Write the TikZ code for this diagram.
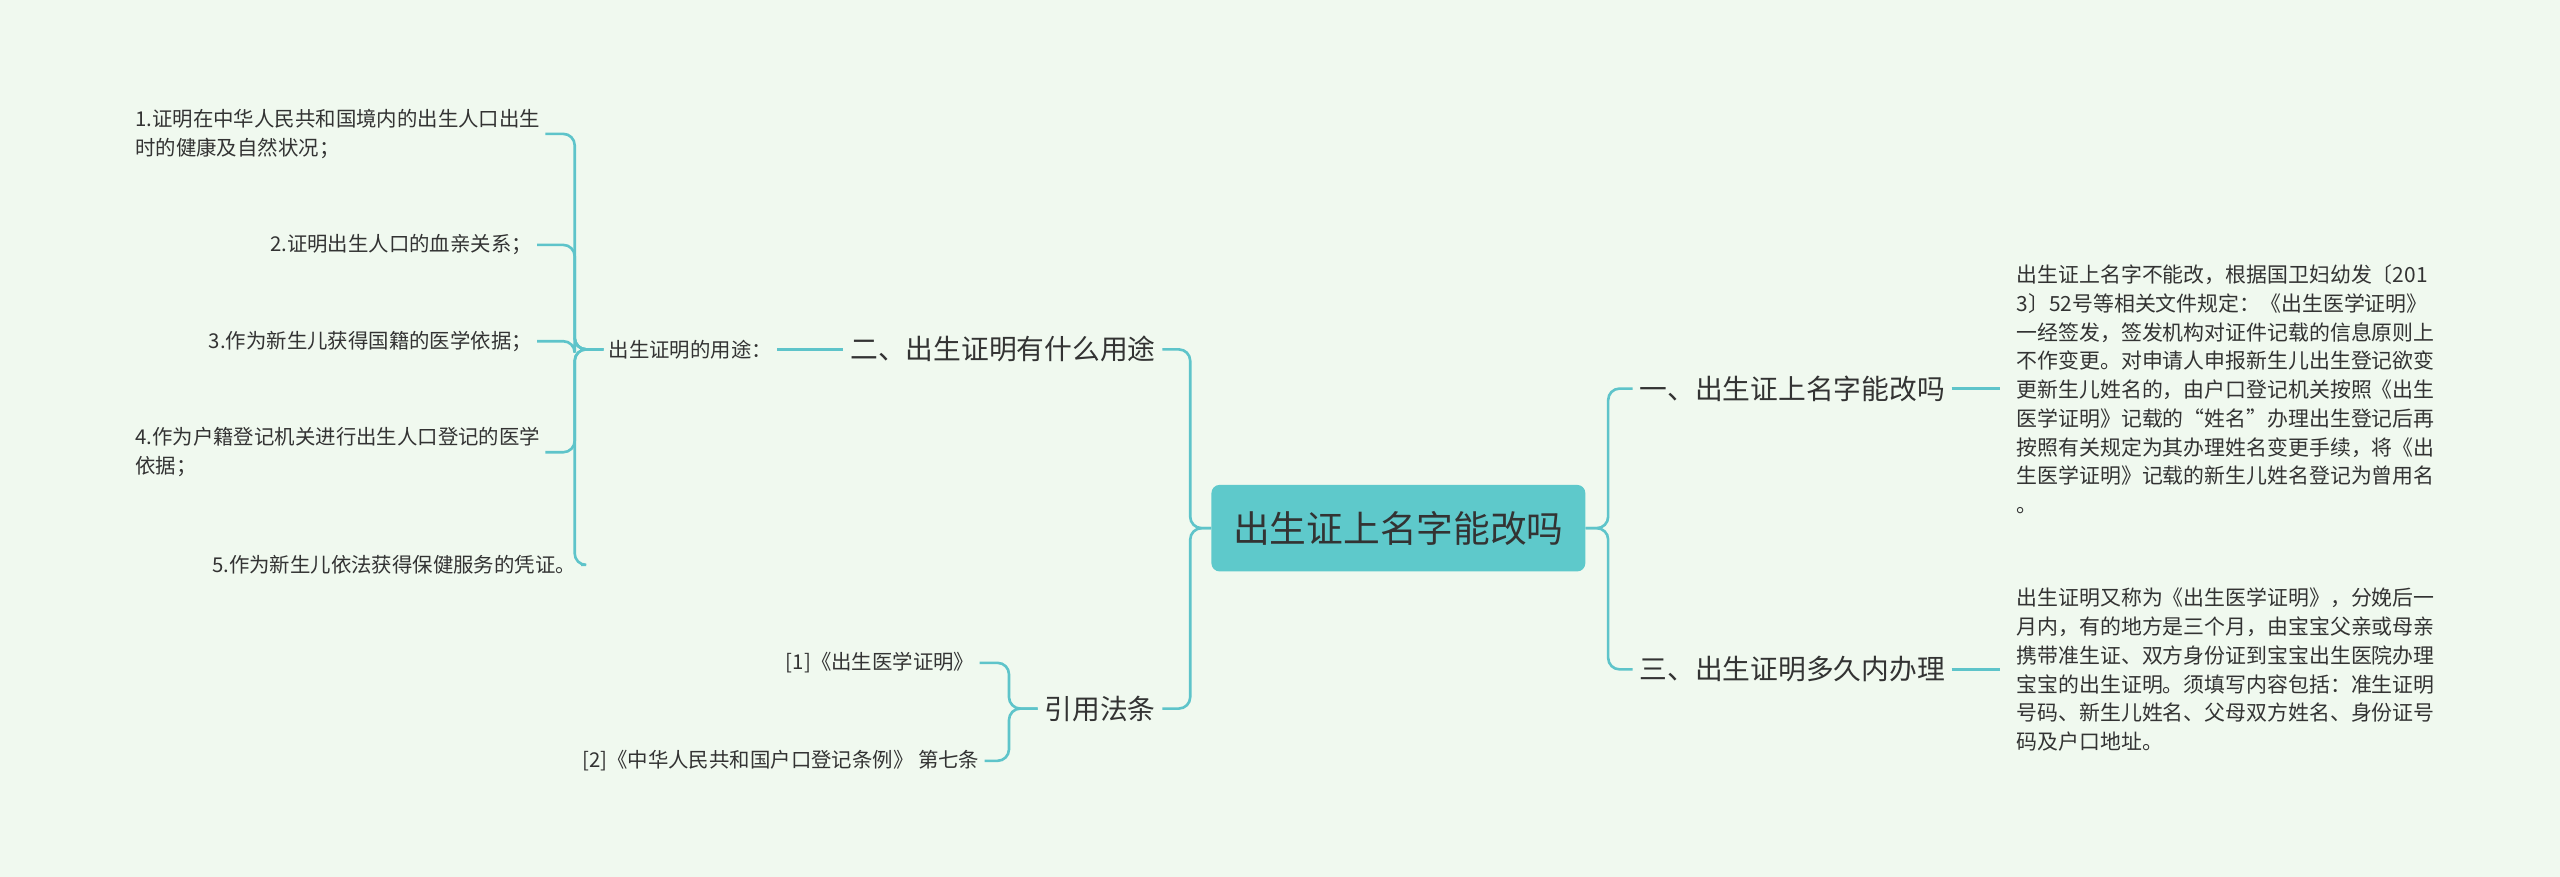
\documentclass[tikz,border=0pt]{standalone}
\usepackage{fontspec}
\setmainfont{Noto Sans CJK SC}
\definecolor{bg}{HTML}{F0F9EF}
\definecolor{ln}{HTML}{5EC4CA}
\definecolor{ctr}{HTML}{5EC9CB}
\definecolor{tx}{HTML}{333333}
\begin{document}
\begin{tikzpicture}[x=1pt,y=-1pt,
  leaf/.style={font=\fontsize{12.5}{18}\selectfont,text=tx,inner sep=3pt,align=left},
  para/.style={font=\fontsize{12.8}{17.6}\selectfont,text=tx,inner sep=2pt,align=left,anchor=north west},
  branch/.style={font=\fontsize{17}{20}\selectfont,text=tx,inner sep=4pt},
  conn/.style={draw=ln,line width=1.6pt,rounded corners=7pt}]
\fill[bg] (0,0) rectangle (1568,537);
\useasboundingbox (0,0) rectangle (1568,537);
\node[fill=ctr,rounded corners=5pt,minimum width=229pt,minimum height=53pt,font=\fontsize{22.5}{26}\selectfont,text=tx] (c) at (856.5,323.5) {出生证上名字能改吗};
% right
\node[branch,anchor=west] (r1) at (1000,238) {一、出生证上名字能改吗};
\node[branch,anchor=west] (r3) at (1000,410) {三、出生证明多久内办理};
\node[para] (p1) at (1233,160) {出生证上名字不能改，根据国卫妇幼发〔201\\3〕52号等相关文件规定：《出生医学证明》\\一经签发，签发机构对证件记载的信息原则上\\不作变更。对申请人申报新生儿出生登记欲变\\更新生儿姓名的，由户口登记机关按照《出生\\医学证明》记载的“姓名”办理出生登记后再\\按照有关规定为其办理姓名变更手续，将《出\\生医学证明》记载的新生儿姓名登记为曾用名\\。};
\node[para] (p3) at (1233,358) {出生证明又称为《出生医学证明》，分娩后一\\月内，有的地方是三个月，由宝宝父亲或母亲\\携带准生证、双方身份证到宝宝出生医院办理\\宝宝的出生证明。须填写内容包括：准生证明\\号码、新生儿姓名、父母双方姓名、身份证号\\码及户口地址。};
\draw[conn] (c.east) -- (985,323.5) |- (r1.west);
\draw[conn] (c.east) -- (985,323.5) |- (r3.west);
\draw[conn] (r1.east) -- (1225,238);
\draw[conn] (r3.east) -- (1225,410);
% left
\node[branch,anchor=east] (l2) at (712,214) {二、出生证明有什么用途};
\node[branch,anchor=east] (ly) at (712,434) {引用法条};
\draw[conn] (c.west) -- (729,323.5) |- (l2.east);
\draw[conn] (c.west) -- (729,323.5) |- (ly.east);
\node[leaf,anchor=east] (u) at (476,214) {出生证明的用途：};
\draw[conn] (u.east) -- (l2.west);
\node[leaf,anchor=east] (a1) at (334,82) {1.证明在中华人民共和国境内的出生人口出生\\时的健康及自然状况；};
\node[leaf,anchor=east] (a2) at (329,150) {2.证明出生人口的血亲关系；};
\node[leaf,anchor=east] (a3) at (329,209) {3.作为新生儿获得国籍的医学依据；};
\node[leaf,anchor=east] (a4) at (334,277) {4.作为户籍登记机关进行出生人口登记的医学\\依据；};
\node[leaf,anchor=east] (a5) at (356,346) {5.作为新生儿依法获得保健服务的凭证。};
\foreach \n in {a1,a2,a3,a4,a5} \draw[conn] (u.west) -- (352,214) |- (\n.east);
\node[leaf,anchor=east] (b1) at (600,406) {[1]《出生医学证明》};
\node[leaf,anchor=east] (b2) at (603,466) {[2]《中华人民共和国户口登记条例》 第七条};
\draw[conn] (ly.west) -- (618,434) |- (b1.east);
\draw[conn] (ly.west) -- (618,434) |- (b2.east);
\end{tikzpicture}
\end{document}
